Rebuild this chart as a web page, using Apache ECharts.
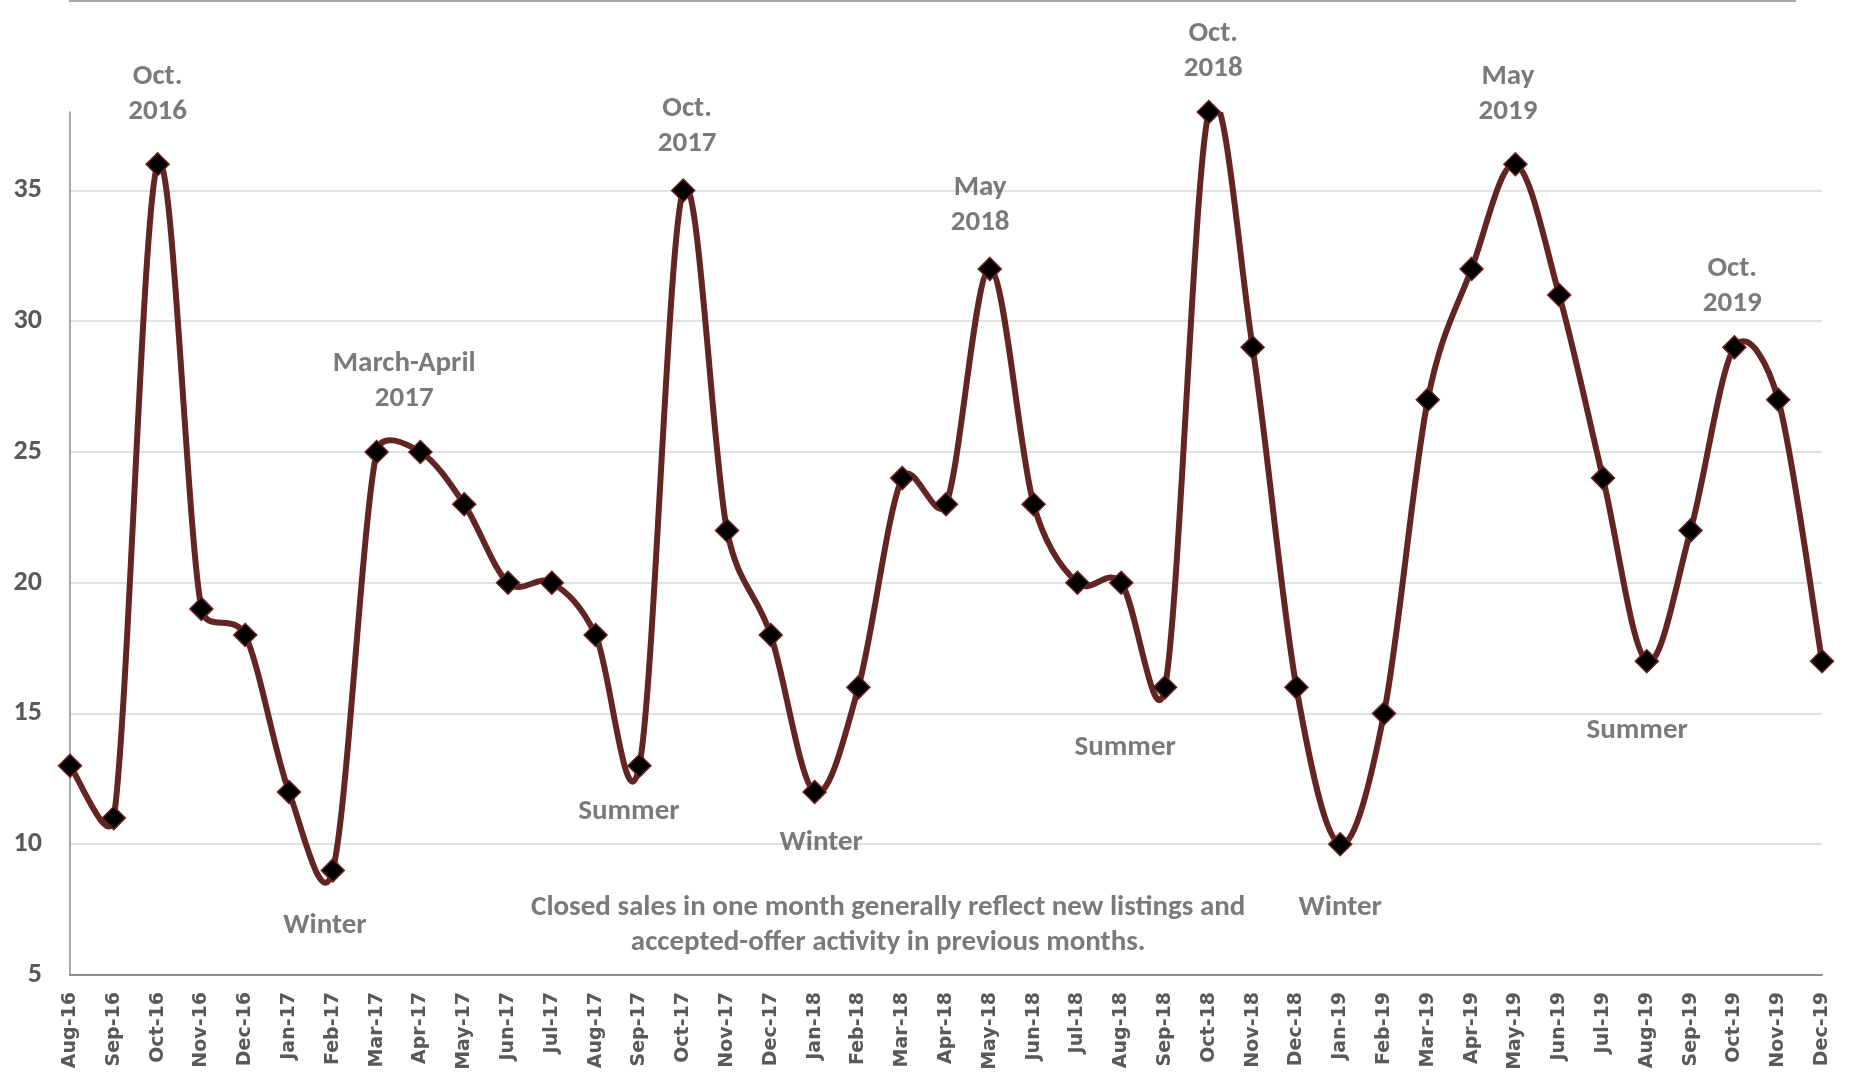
<!DOCTYPE html>
<html>
<head>
<meta charset="utf-8">
<title>Closed Sales by Month</title>
<script src="https://cdn.jsdelivr.net/npm/echarts@6/dist/echarts.min.js"></script>
<style>
  html, body { margin: 0; padding: 0; background: #ffffff; }
  #chart { width: 1865px; height: 1081px; }
</style>
</head>
<body>
<div id="chart"></div>
<script>
// Monthly closed sales, Aug 2016 – Dec 2019
const months = [
  'Aug-16', 'Sep-16', 'Oct-16', 'Nov-16', 'Dec-16',
  'Jan-17', 'Feb-17', 'Mar-17', 'Apr-17', 'May-17', 'Jun-17', 'Jul-17', 'Aug-17', 'Sep-17', 'Oct-17', 'Nov-17', 'Dec-17',
  'Jan-18', 'Feb-18', 'Mar-18', 'Apr-18', 'May-18', 'Jun-18', 'Jul-18', 'Aug-18', 'Sep-18', 'Oct-18', 'Nov-18', 'Dec-18',
  'Jan-19', 'Feb-19', 'Mar-19', 'Apr-19', 'May-19', 'Jun-19', 'Jul-19', 'Aug-19', 'Sep-19', 'Oct-19', 'Nov-19', 'Dec-19'
];
const closedSales = [
  13, 11, 36, 19, 18,
  12, 9, 25, 25, 23, 20, 20, 18, 13, 35, 22, 18,
  12, 16, 24, 23, 32, 23, 20, 20, 16, 38, 29, 16,
  10, 15, 27, 32, 36, 31, 24, 17, 22, 29, 27, 17
];

// Value axis range
const yMin = 5;
const yMax = 38;
const yStep = 5;

// Callout texts, placed by month position (0 = Aug-16) and value
const calloutTexts = [
  'Oct.\n2016', 'March-April\n2017', 'Winter', 'Summer', 'Oct.\n2017', 'Winter',
  'May\n2018', 'Oct.\n2018', 'Summer', 'Winter', 'May\n2019', 'Summer', 'Oct.\n2019',
  'Closed sales in one month generally reflect new listings and\naccepted-offer activity in previous months.'
];
const calloutMonthPos = [2.0, 7.63, 5.82, 12.76, 14.09, 17.15, 20.78, 26.1, 24.09, 29.0, 32.83, 35.78, 37.95, 18.68];
const calloutValues   = [38.68, 27.7, 6.87, 11.26, 37.46, 10.04, 34.43, 40.32, 13.7, 7.56, 38.68, 14.35, 31.35, 6.9];

const textGray = '#595959';
const lineColor = '#632523';
const labelFont = 'Carlito, Lato, sans-serif';

const calloutData = calloutTexts.map((t, i) => [calloutMonthPos[i], calloutValues[i], t]);

// Spreadsheet-style smoothed curve: cubic Bezier segments whose control
// points follow the neighbour chord (1/6 tension), capped at half the segment.
function smoothPath(pts) {
  const n = pts.length;
  const dist = (a, b) => Math.hypot(b[0] - a[0], b[1] - a[1]);
  let d = 'M' + pts[0][0] + ',' + pts[0][1];
  for (let i = 0; i < n - 1; i++) {
    const p0 = pts[Math.max(i - 1, 0)];
    const p1 = pts[i];
    const p2 = pts[i + 1];
    const p3 = pts[Math.min(i + 2, n - 1)];
    const d02 = dist(p0, p2);
    const d12 = dist(p1, p2);
    const d13 = dist(p1, p3);
    let f0 = 1 / 6;
    let f1 = 1 / 6;
    if (d02 / 6 >= d12 / 2 && d02 > 0) f0 = d12 / d02 / 2;
    if (d13 / 6 >= d12 / 2 && d13 > 0) f1 = d12 / d13 / 2;
    const c1x = p1[0] + (p2[0] - p0[0]) * f0;
    const c1y = p1[1] + (p2[1] - p0[1]) * f0;
    const c2x = p2[0] - (p3[0] - p1[0]) * f1;
    const c2y = p2[1] - (p3[1] - p1[1]) * f1;
    d += ' C' + c1x + ',' + c1y + ' ' + c2x + ',' + c2y + ' ' + p2[0] + ',' + p2[1];
  }
  return d;
}

const chart = echarts.init(document.getElementById('chart'), null, { renderer: 'canvas' });

chart.setOption({
  animation: false,
  backgroundColor: '#ffffff',
  grid: { left: 70, right: 43, top: 112, bottom: 106 },
  graphic: [
    {
      type: 'line',
      shape: { x1: 69, y1: 1, x2: 1796, y2: 1 },
      style: { stroke: '#a6a6a6', lineWidth: 2 }
    }
  ],
  xAxis: [
    {
      type: 'category',
      data: months,
      boundaryGap: false,
      axisLine: { show: true, lineStyle: { color: '#8c8c8c', width: 2 } },
      axisTick: { show: false },
      splitLine: { show: false },
      axisLabel: {
        rotate: 90,
        interval: 0,
        margin: 17,
        color: textGray,
        fontFamily: '"DejaVu Sans", Verdana, sans-serif',
        fontWeight: 'bold',
        fontSize: 19
      }
    },
    {
      type: 'value',
      min: 0,
      max: months.length - 1,
      show: false
    }
  ],
  yAxis: {
    type: 'value',
    min: yMin,
    max: yMax,
    interval: yStep,
    axisLine: { show: true, lineStyle: { color: '#8c8c8c', width: 1.5 } },
    axisTick: { show: false },
    splitLine: {
      show: true,
      showMinLine: false,
      showMaxLine: false,
      lineStyle: { color: '#d9d9d9', width: 1.5 }
    },
    axisLabel: {
      showMaxLabel: false,
      margin: 28,
      color: textGray,
      fontFamily: labelFont,
      fontWeight: 'bold',
      fontSize: 28
    }
  },
  series: [
    {
      // smoothed trend curve, clipped to the plot area
      name: 'Closed Sales Curve',
      type: 'custom',
      data: closedSales.map((v, i) => [i, v]),
      encode: { x: 0, y: 1 },
      silent: true,
      z: 2,
      renderItem: (params, api) => {
        if (params.dataIndex !== 0) return null;
        const pts = closedSales.map((v, i) => api.coord([i, v]));
        const cs = params.coordSys;
        return {
          type: 'path',
          shape: { pathData: smoothPath(pts) },
          clipPath: {
            type: 'rect',
            shape: { x: cs.x - 10, y: cs.y, width: cs.width + 20, height: cs.height + 10 }
          },
          style: { fill: 'none', stroke: lineColor, lineWidth: 6, lineJoin: 'round', lineCap: 'round' }
        };
      }
    },
    {
      // diamond markers at each month
      name: 'Closed Sales',
      type: 'line',
      data: closedSales,
      symbol: 'diamond',
      symbolSize: 23,
      showAllSymbol: true,
      lineStyle: { opacity: 0, width: 0 },
      itemStyle: { color: '#000000', borderColor: '#6b2222', borderWidth: 1.5 },
      z: 3
    },
    {
      name: 'Callouts',
      type: 'scatter',
      xAxisIndex: 1,
      data: calloutData,
      symbol: 'circle',
      symbolSize: 1,
      clip: false,
      itemStyle: { color: 'rgba(0,0,0,0)' },
      silent: true,
      label: {
        show: true,
        position: 'inside',
        formatter: p => p.data[2],
        color: textGray,
        fontFamily: labelFont,
        fontWeight: 'bold',
        fontSize: 29,
        lineHeight: 35,
        align: 'center',
        verticalAlign: 'middle'
      },
      z: 5
    }
  ]
});
</script>
</body>
</html>
